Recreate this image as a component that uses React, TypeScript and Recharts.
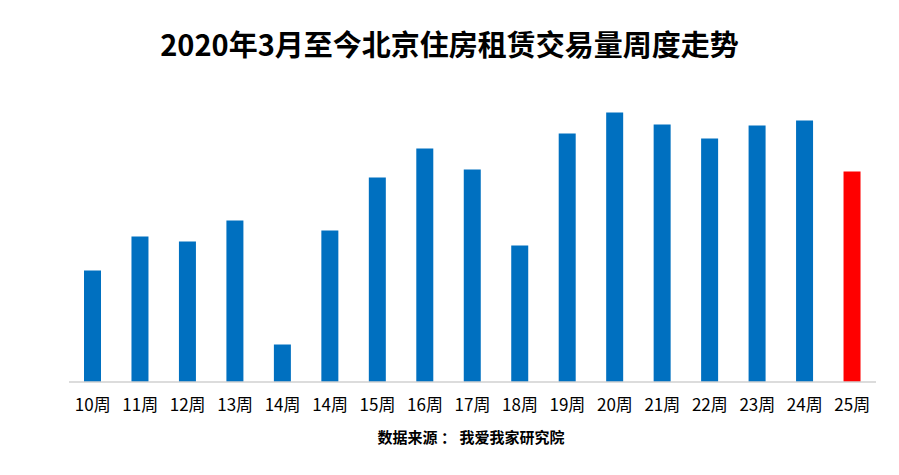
import React from "react";
import { BarChart, Bar, XAxis, YAxis, Cell } from "recharts";

const weeks = ["10周", "11周", "12周", "13周", "14周", "14周", "15周", "16周", "17周", "18周", "19周", "20周", "21周", "22周", "23周", "24周", "25周"];
const volumes = [111.5, 145.5, 140.5, 161.5, 37.5, 151.5, 204.5, 233.5, 212.5, 136.5, 248.5, 269.5, 257.5, 243.5, 256.5, 261.5, 210.5];
const highlightIndex = 16;

const data = weeks.map((w, i) => ({ week: w, value: volumes[i], key: i }));

const FONT = '"Noto Sans CJK SC", "Noto Sans", sans-serif';

export default function App() {
  return (
    <div style={{ position: "absolute", left: 0, top: 0, width: 899, height: 475, background: "#fff", fontFamily: FONT }}>
      <div
        style={{
          position: "absolute",
          left: 0,
          top: 24,
          width: 899,
          textAlign: "center",
          fontSize: 29,
          fontWeight: 700,
          color: "#000",
          lineHeight: "39px",
        }}
      >
        2020年3月至今北京住房租赁交易量周度走势
      </div>
      <BarChart
        width={899}
        height={475}
        data={data}
        margin={{ top: 82, right: 23, left: 69, bottom: 63 }}
        barCategoryGap={0}
      >
        <XAxis
          dataKey="week"
          axisLine={{ stroke: "#d0d0d0", strokeWidth: 1.5 }}
          tickLine={false}
          tickMargin={11}
          height={30}
          interval={0}
          tick={{ fill: "#000", fontSize: 17, fontFamily: FONT }}
        />
        <YAxis hide domain={[0, 300]} />
        <Bar dataKey="value" barSize={17} isAnimationActive={false}>
          {data.map((d, i) => (
            <Cell key={d.key} fill={i === highlightIndex ? "#ff0000" : "#0070c0"} />
          ))}
        </Bar>
      </BarChart>
      <div
        style={{
          position: "absolute",
          left: 0,
          top: 427,
          width: 942,
          textAlign: "center",
          fontSize: 15,
          fontWeight: 700,
          color: "#000",
          lineHeight: "20px",
          whiteSpace: "pre",
        }}
      >
        数据来源 ： 我爱我家研究院
      </div>
    </div>
  );
}
